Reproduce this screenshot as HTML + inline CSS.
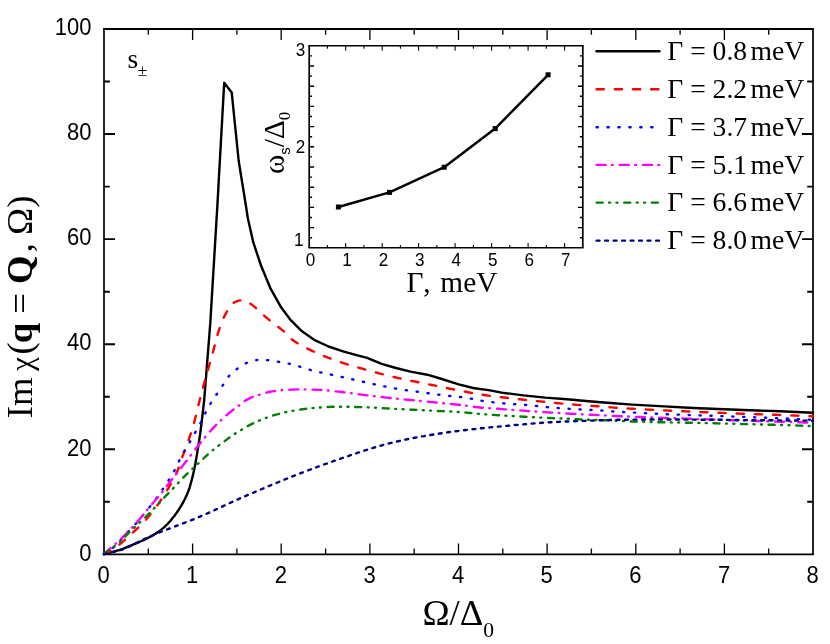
<!DOCTYPE html>
<html><head><meta charset="utf-8"><title>chart</title>
<style>html,body{margin:0;padding:0;background:#fff}svg{display:block;will-change:transform}</style>
</head><body>
<svg width="830" height="644" viewBox="0 0 830 644">
<rect width="830" height="644" fill="#fff"/>
<g stroke="#000" fill="none" stroke-linecap="butt">
<path stroke-width="1.95" d="M103.15 28.95H813.85M103.15 554.35H813.85"/>
<path stroke-width="1.7" d="M104.00 28.95V554.35M813.00 28.95V554.35"/>
<path stroke-width="1.3" d="M148.3 554.4v-5.8M148.3 28.9v5.8M192.6 554.4v-11.0M192.6 28.9v11.0M236.9 554.4v-5.8M236.9 28.9v5.8M281.2 554.4v-11.0M281.2 28.9v11.0M325.6 554.4v-5.8M325.6 28.9v5.8M369.9 554.4v-11.0M369.9 28.9v11.0M414.2 554.4v-5.8M414.2 28.9v5.8M458.5 554.4v-11.0M458.5 28.9v11.0M502.8 554.4v-5.8M502.8 28.9v5.8M547.1 554.4v-11.0M547.1 28.9v11.0M591.4 554.4v-5.8M591.4 28.9v5.8M635.8 554.4v-11.0M635.8 28.9v11.0M680.1 554.4v-5.8M680.1 28.9v5.8M724.4 554.4v-11.0M724.4 28.9v11.0M768.7 554.4v-5.8M768.7 28.9v5.8"/>
<path stroke-width="1.9" d="M104.0 501.8h5.8M813.0 501.8h-5.8M104.0 449.3h11.0M813.0 449.3h-11.0M104.0 396.7h5.8M813.0 396.7h-5.8M104.0 344.2h11.0M813.0 344.2h-11.0M104.0 291.7h5.8M813.0 291.7h-5.8M104.0 239.1h11.0M813.0 239.1h-11.0M104.0 186.6h5.8M813.0 186.6h-5.8M104.0 134.0h11.0M813.0 134.0h-11.0M104.0 81.5h5.8M813.0 81.5h-5.8"/>
</g>
<g font-family="Liberation Sans, sans-serif" font-size="22.0" fill="#000">
<text transform="translate(103.6 583.4) scale(1 1.090)" text-anchor="middle">0</text>
<text transform="translate(192.2 583.4) scale(1 1.090)" text-anchor="middle">1</text>
<text transform="translate(280.9 583.4) scale(1 1.090)" text-anchor="middle">2</text>
<text transform="translate(369.5 583.4) scale(1 1.090)" text-anchor="middle">3</text>
<text transform="translate(458.1 583.4) scale(1 1.090)" text-anchor="middle">4</text>
<text transform="translate(546.7 583.4) scale(1 1.090)" text-anchor="middle">5</text>
<text transform="translate(635.4 583.4) scale(1 1.090)" text-anchor="middle">6</text>
<text transform="translate(724.0 583.4) scale(1 1.090)" text-anchor="middle">7</text>
<text transform="translate(812.6 583.4) scale(1 1.090)" text-anchor="middle">8</text>
<text transform="translate(91.4 560.6) scale(1 1.090)" text-anchor="end">0</text>
<text transform="translate(91.4 455.5) scale(1 1.090)" text-anchor="end">20</text>
<text transform="translate(91.4 350.4) scale(1 1.090)" text-anchor="end">40</text>
<text transform="translate(91.4 245.3) scale(1 1.090)" text-anchor="end">60</text>
<text transform="translate(91.4 140.2) scale(1 1.090)" text-anchor="end">80</text>
<text transform="translate(91.4 35.2) scale(1 1.090)" text-anchor="end">100</text>
</g>
<g fill="none" stroke-width="2.40" stroke-linecap="round" stroke-linejoin="round">
<path stroke="#000" stroke-linejoin="round" d="M104.0 554.1 L105.5 553.7 L107.0 553.3 L108.5 553.0 L110.0 552.6 L111.5 552.2 L113.0 551.8 L114.5 551.4 L116.0 550.9 L117.5 550.5 L119.0 550.1 L120.5 549.6 L122.0 549.1 L123.5 548.5 L125.0 547.9 L126.5 547.3 L128.0 546.7 L129.5 546.1 L131.0 545.5 L132.5 544.9 L134.0 544.2 L135.5 543.6 L137.0 543.0 L138.5 542.3 L140.0 541.6 L141.5 541.0 L143.0 540.3 L144.5 539.6 L146.0 538.9 L147.5 538.2 L149.0 537.4 L150.5 536.6 L152.0 535.8 L153.5 534.9 L155.0 534.0 L156.5 533.1 L158.0 532.1 L159.5 531.0 L161.0 529.9 L162.5 528.6 L164.0 527.4 L165.5 526.0 L167.0 524.5 L168.5 522.9 L170.0 521.2 L171.5 519.4 L173.0 517.6 L174.5 515.7 L176.0 513.6 L177.5 511.5 L179.0 509.3 L180.5 506.9 L182.0 504.4 L183.5 501.7 L185.0 498.7 L186.5 495.6 L188.0 492.0 L189.5 487.8 L191.0 482.7 L192.5 476.9 L194.0 470.4 L195.5 462.9 L197.0 454.1 L198.5 444.7 L200.0 434.9 L201.5 423.5 L203.0 410.6 L204.2 400.0 L210.3 323.0 L217.4 205.0 L224.2 82.7 L231.7 92.4 L238.7 161.0 L245.8 205.0 L247.8 218.0 L253.3 242.4 L261.0 265.5 L270.6 288.7 L281.1 307.3 L290.0 319.3 L302.0 331.3 L314.1 339.8 L328.6 346.5 L343.0 351.3 L357.5 355.4 L367.1 357.8 L381.6 363.9 L396.0 368.0 L410.5 371.6 L427.3 374.7 L441.8 379.0 L458.7 384.3 L473.1 388.0 L490.0 390.4 L501.7 392.6 L523.5 395.4 L545.2 397.6 L567.0 399.3 L588.7 401.3 L610.4 403.0 L632.2 404.6 L655.0 405.9 L693.5 408.0 L737.0 409.8 L780.4 411.3 L813.0 412.8"/>
<path stroke="#ff0000" stroke-dasharray="7.2 11" d="M104.0 554.1 L106.0 553.2 L108.0 552.2 L110.0 551.1 L112.0 549.9 L114.0 548.5 L116.0 547.1 L118.0 545.6 L120.0 544.1 L122.0 542.4 L124.0 540.7 L126.0 538.9 L128.0 537.1 L130.0 535.2 L132.0 533.3 L134.0 531.5 L136.0 529.7 L138.0 527.8 L140.0 525.9 L142.0 523.9 L144.0 521.9 L146.0 519.7 L148.0 517.3 L150.0 514.8 L152.0 512.3 L154.0 509.8 L156.0 507.1 L158.0 504.4 L160.0 501.5 L162.0 498.4 L164.0 495.3 L166.0 492.1 L168.0 488.8 L170.0 485.5 L172.0 482.1 L174.0 478.5 L176.0 474.4 L178.0 469.5 L180.0 463.8 L182.0 457.9 L184.0 452.2 L186.0 447.0 L188.0 441.7 L190.0 436.0 L192.0 429.8 L194.0 423.1 L196.0 415.4 L198.0 406.9 L200.0 398.7 L202.0 391.2 L204.0 383.9 L206.0 376.7 L208.0 369.7 L210.0 362.6 L212.0 355.4 L214.0 348.1 L216.0 340.6 L218.0 333.1 L220.0 326.9 L222.0 321.7 L224.0 317.1 L226.0 313.1 L228.0 309.7 L230.0 306.6 L232.0 304.0 L234.0 302.5 L236.0 301.6 L238.0 300.9 L240.0 300.4 L242.0 300.1 L244.0 300.0 L246.0 300.7 L248.0 302.0 L250.0 303.4 L252.0 304.8 L254.0 306.4 L256.0 308.2 L258.0 309.9 L260.0 311.8 L262.0 313.6 L264.0 315.5 L266.0 317.3 L268.0 318.9 L270.0 320.5 L272.0 322.1 L274.0 323.6 L276.0 325.1 L278.0 326.7 L280.0 328.3 L282.0 329.9 L284.0 331.6 L286.0 333.4 L288.0 335.5 L290.0 337.7 L292.0 339.5 L294.0 341.0 L296.0 342.3 L298.0 343.6 L300.0 344.8 L302.0 345.9 L304.0 346.9 L306.0 348.0 L308.0 348.9 L310.0 349.9 L312.0 350.8 L314.0 351.8 L316.0 352.7 L318.0 353.6 L320.0 354.4 L322.0 355.3 L324.0 356.1 L326.0 356.9 L328.0 357.7 L330.0 358.4 L332.0 359.2 L334.0 359.9 L336.0 360.6 L338.0 361.3 L340.0 362.0 L342.0 362.7 L344.0 363.3 L346.0 363.9 L348.0 364.6 L350.0 365.2 L352.0 365.7 L354.0 366.3 L356.0 366.9 L358.0 367.5 L360.0 368.0 L362.0 368.6 L364.0 369.2 L366.0 369.8 L368.0 370.3 L370.0 370.9 L372.0 371.4 L374.0 372.0 L376.0 372.5 L378.0 373.0 L380.0 373.6 L382.0 374.1 L384.0 374.6 L386.0 375.1 L388.0 375.6 L390.0 376.1 L392.0 376.6 L394.0 377.0 L396.0 377.5 L398.0 378.0 L400.0 378.4 L402.0 378.9 L404.0 379.3 L406.0 379.7 L408.0 380.2 L410.0 380.6 L412.0 381.0 L414.0 381.4 L416.0 381.8 L418.0 382.2 L420.0 382.6 L422.0 383.0 L424.0 383.4 L426.0 383.8 L428.0 384.2 L430.0 384.6 L432.0 385.0 L434.0 385.4 L436.0 385.8 L438.0 386.2 L440.0 386.6 L442.0 387.0 L444.0 387.4 L446.0 387.8 L448.0 388.3 L450.0 388.7 L452.0 389.1 L454.0 389.5 L456.0 389.9 L458.0 390.3 L460.0 390.6 L462.0 391.0 L464.0 391.4 L466.0 391.8 L468.0 392.2 L470.0 392.6 L472.0 393.0 L474.0 393.3 L476.0 393.7 L478.0 394.0 L480.0 394.4 L482.0 394.7 L484.0 395.0 L486.0 395.3 L488.0 395.6 L490.0 395.9 L492.0 396.1 L494.0 396.4 L496.0 396.6 L498.0 396.8 L500.0 397.1 L502.0 397.3 L504.0 397.5 L506.0 397.7 L508.0 398.0 L510.0 398.2 L512.0 398.4 L514.0 398.6 L516.0 398.9 L518.0 399.1 L520.0 399.3 L522.0 399.5 L524.0 399.8 L526.0 400.0 L528.0 400.2 L530.0 400.4 L532.0 400.6 L534.0 400.8 L536.0 401.0 L538.0 401.2 L540.0 401.4 L542.0 401.6 L544.0 401.8 L546.0 402.0 L548.0 402.2 L550.0 402.4 L552.0 402.6 L554.0 402.8 L556.0 403.0 L558.0 403.2 L560.0 403.4 L562.0 403.6 L564.0 403.8 L566.0 404.0 L568.0 404.1 L570.0 404.3 L572.0 404.5 L574.0 404.6 L576.0 404.8 L578.0 404.9 L580.0 405.1 L582.0 405.2 L584.0 405.3 L586.0 405.5 L588.0 405.6 L590.0 405.7 L592.0 405.9 L594.0 406.0 L596.0 406.2 L598.0 406.3 L600.0 406.5 L602.0 406.6 L604.0 406.8 L606.0 407.0 L608.0 407.1 L610.0 407.3 L612.0 407.4 L614.0 407.6 L616.0 407.7 L618.0 407.9 L620.0 408.0 L622.0 408.1 L624.0 408.3 L626.0 408.4 L628.0 408.5 L630.0 408.6 L632.0 408.7 L634.0 408.8 L636.0 408.9 L638.0 409.1 L640.0 409.2 L642.0 409.3 L644.0 409.4 L646.0 409.5 L648.0 409.6 L650.0 409.7 L652.0 409.8 L654.0 409.9 L656.0 410.0 L658.0 410.1 L660.0 410.2 L662.0 410.3 L664.0 410.4 L666.0 410.5 L668.0 410.6 L670.0 410.7 L672.0 410.8 L674.0 410.8 L676.0 410.9 L678.0 411.0 L680.0 411.1 L682.0 411.2 L684.0 411.3 L686.0 411.4 L688.0 411.5 L690.0 411.5 L692.0 411.6 L694.0 411.7 L696.0 411.8 L698.0 411.9 L700.0 412.0 L702.0 412.1 L704.0 412.2 L706.0 412.2 L708.0 412.3 L710.0 412.4 L712.0 412.5 L714.0 412.6 L716.0 412.7 L718.0 412.7 L720.0 412.8 L722.0 412.9 L724.0 413.0 L726.0 413.1 L728.0 413.2 L730.0 413.2 L732.0 413.3 L734.0 413.4 L736.0 413.5 L738.0 413.5 L740.0 413.6 L742.0 413.7 L744.0 413.8 L746.0 413.8 L748.0 413.9 L750.0 414.0 L752.0 414.0 L754.0 414.1 L756.0 414.2 L758.0 414.2 L760.0 414.3 L762.0 414.4 L764.0 414.4 L766.0 414.5 L768.0 414.6 L770.0 414.6 L772.0 414.7 L774.0 414.8 L776.0 414.8 L778.0 414.9 L780.0 415.0 L782.0 415.1 L784.0 415.1 L786.0 415.2 L788.0 415.3 L790.0 415.4 L792.0 415.4 L794.0 415.5 L796.0 415.6 L798.0 415.7 L800.0 415.8 L802.0 415.8 L804.0 415.9 L806.0 416.0 L808.0 416.1 L810.0 416.2 L812.0 416.3 L813.0 416.3"/>
<path stroke="#0000ff" stroke-dasharray="1.2 9.73" d="M104.0 554.1 L106.0 553.0 L108.0 551.7 L110.0 550.2 L112.0 548.6 L114.0 546.9 L116.0 544.9 L118.0 542.8 L120.0 540.6 L122.0 538.4 L124.0 536.1 L126.0 533.9 L128.0 531.7 L130.0 529.7 L132.0 527.7 L134.0 525.7 L136.0 523.5 L138.0 521.1 L140.0 518.6 L142.0 516.2 L144.0 513.8 L146.0 511.4 L148.0 509.0 L150.0 506.5 L152.0 504.0 L154.0 501.4 L156.0 498.7 L158.0 496.0 L160.0 493.1 L162.0 490.2 L164.0 487.3 L166.0 484.3 L168.0 481.3 L170.0 478.1 L172.0 474.9 L174.0 471.5 L176.0 467.6 L178.0 463.3 L180.0 459.2 L182.0 455.6 L184.0 452.0 L186.0 448.5 L188.0 445.1 L190.0 441.7 L192.0 438.2 L194.0 434.7 L196.0 431.1 L198.0 427.6 L200.0 424.0 L202.0 420.1 L204.0 415.7 L206.0 411.5 L208.0 407.9 L210.0 404.5 L212.0 401.3 L214.0 398.3 L216.0 395.3 L218.0 392.4 L220.0 389.4 L222.0 386.4 L224.0 383.5 L226.0 380.3 L228.0 377.3 L230.0 374.8 L232.0 372.9 L234.0 371.2 L236.0 369.7 L238.0 368.3 L240.0 366.9 L242.0 365.6 L244.0 364.3 L246.0 363.2 L248.0 362.4 L250.0 361.7 L252.0 361.1 L254.0 360.6 L256.0 360.1 L258.0 359.9 L260.0 359.8 L262.0 359.8 L264.0 359.9 L266.0 360.0 L268.0 360.2 L270.0 360.4 L272.0 360.6 L274.0 360.9 L276.0 361.3 L278.0 361.7 L280.0 362.1 L282.0 362.5 L284.0 362.8 L286.0 363.1 L288.0 363.5 L290.0 363.8 L292.0 364.3 L294.0 364.8 L296.0 365.4 L298.0 366.0 L300.0 366.7 L302.0 367.3 L304.0 367.9 L306.0 368.5 L308.0 369.2 L310.0 369.8 L312.0 370.4 L314.0 370.9 L316.0 371.4 L318.0 371.8 L320.0 372.3 L322.0 372.7 L324.0 373.2 L326.0 373.6 L328.0 374.0 L330.0 374.4 L332.0 374.8 L334.0 375.3 L336.0 375.7 L338.0 376.2 L340.0 376.6 L342.0 377.0 L344.0 377.5 L346.0 377.9 L348.0 378.4 L350.0 378.8 L352.0 379.2 L354.0 379.7 L356.0 380.1 L358.0 380.6 L360.0 381.0 L362.0 381.5 L364.0 382.0 L366.0 382.4 L368.0 382.9 L370.0 383.4 L372.0 383.8 L374.0 384.2 L376.0 384.7 L378.0 385.1 L380.0 385.5 L382.0 385.9 L384.0 386.3 L386.0 386.7 L388.0 387.1 L390.0 387.5 L392.0 387.9 L394.0 388.2 L396.0 388.6 L398.0 388.9 L400.0 389.3 L402.0 389.6 L404.0 389.9 L406.0 390.2 L408.0 390.5 L410.0 390.8 L412.0 391.0 L414.0 391.3 L416.0 391.6 L418.0 391.8 L420.0 392.1 L422.0 392.4 L424.0 392.7 L426.0 393.0 L428.0 393.2 L430.0 393.5 L432.0 393.8 L434.0 394.0 L436.0 394.3 L438.0 394.6 L440.0 394.8 L442.0 395.1 L444.0 395.3 L446.0 395.5 L448.0 395.8 L450.0 396.0 L452.0 396.2 L454.0 396.4 L456.0 396.6 L458.0 396.8 L460.0 397.0 L462.0 397.3 L464.0 397.5 L466.0 397.8 L468.0 398.1 L470.0 398.5 L472.0 398.8 L474.0 399.2 L476.0 399.6 L478.0 400.0 L480.0 400.4 L482.0 400.8 L484.0 401.1 L486.0 401.4 L488.0 401.6 L490.0 401.9 L492.0 402.1 L494.0 402.4 L496.0 402.6 L498.0 402.8 L500.0 403.0 L502.0 403.2 L504.0 403.4 L506.0 403.6 L508.0 403.8 L510.0 403.9 L512.0 404.1 L514.0 404.2 L516.0 404.3 L518.0 404.5 L520.0 404.6 L522.0 404.7 L524.0 404.8 L526.0 405.0 L528.0 405.1 L530.0 405.3 L532.0 405.5 L534.0 405.7 L536.0 405.9 L538.0 406.1 L540.0 406.3 L542.0 406.5 L544.0 406.7 L546.0 407.0 L548.0 407.2 L550.0 407.3 L552.0 407.5 L554.0 407.7 L556.0 407.8 L558.0 408.0 L560.0 408.2 L562.0 408.3 L564.0 408.5 L566.0 408.6 L568.0 408.7 L570.0 408.9 L572.0 409.0 L574.0 409.1 L576.0 409.2 L578.0 409.3 L580.0 409.4 L582.0 409.5 L584.0 409.6 L586.0 409.7 L588.0 409.8 L590.0 409.9 L592.0 410.0 L594.0 410.1 L596.0 410.2 L598.0 410.4 L600.0 410.5 L602.0 410.6 L604.0 410.8 L606.0 410.9 L608.0 411.1 L610.0 411.2 L612.0 411.4 L614.0 411.5 L616.0 411.6 L618.0 411.8 L620.0 411.9 L622.0 412.0 L624.0 412.1 L626.0 412.2 L628.0 412.3 L630.0 412.4 L632.0 412.5 L634.0 412.6 L636.0 412.7 L638.0 412.8 L640.0 412.9 L642.0 413.0 L644.0 413.1 L646.0 413.2 L648.0 413.3 L650.0 413.4 L652.0 413.5 L654.0 413.6 L656.0 413.7 L658.0 413.8 L660.0 413.9 L662.0 414.0 L664.0 414.1 L666.0 414.2 L668.0 414.2 L670.0 414.3 L672.0 414.4 L674.0 414.5 L676.0 414.6 L678.0 414.6 L680.0 414.7 L682.0 414.8 L684.0 414.9 L686.0 414.9 L688.0 415.0 L690.0 415.1 L692.0 415.1 L694.0 415.2 L696.0 415.3 L698.0 415.4 L700.0 415.4 L702.0 415.5 L704.0 415.6 L706.0 415.6 L708.0 415.7 L710.0 415.8 L712.0 415.8 L714.0 415.9 L716.0 416.0 L718.0 416.0 L720.0 416.1 L722.0 416.2 L724.0 416.3 L726.0 416.3 L728.0 416.4 L730.0 416.5 L732.0 416.5 L734.0 416.6 L736.0 416.7 L738.0 416.7 L740.0 416.8 L742.0 416.9 L744.0 416.9 L746.0 417.0 L748.0 417.1 L750.0 417.2 L752.0 417.2 L754.0 417.3 L756.0 417.4 L758.0 417.4 L760.0 417.5 L762.0 417.6 L764.0 417.7 L766.0 417.7 L768.0 417.8 L770.0 417.9 L772.0 418.0 L774.0 418.0 L776.0 418.1 L778.0 418.2 L780.0 418.3 L782.0 418.4 L784.0 418.5 L786.0 418.5 L788.0 418.6 L790.0 418.7 L792.0 418.8 L794.0 418.9 L796.0 419.0 L798.0 419.1 L800.0 419.2 L802.0 419.3 L804.0 419.4 L806.0 419.5 L808.0 419.6 L810.0 419.7 L812.0 419.8 L813.0 419.8"/>
<path stroke="#ff00ff" stroke-dasharray="9 6.4 0.7 7.1" d="M104.0 554.1 L106.0 552.3 L108.0 550.5 L110.0 548.7 L112.0 546.9 L114.0 545.1 L116.0 543.4 L118.0 541.6 L120.0 539.7 L122.0 537.8 L124.0 535.8 L126.0 533.8 L128.0 531.7 L130.0 529.7 L132.0 527.7 L134.0 525.7 L136.0 523.5 L138.0 521.1 L140.0 518.7 L142.0 516.2 L144.0 513.8 L146.0 511.3 L148.0 508.8 L150.0 506.4 L152.0 504.1 L154.0 501.8 L156.0 499.4 L158.0 497.1 L160.0 494.8 L162.0 492.4 L164.0 489.8 L166.0 487.2 L168.0 484.5 L170.0 481.9 L172.0 479.3 L174.0 476.7 L176.0 474.2 L178.0 471.7 L180.0 469.2 L182.0 466.7 L184.0 464.1 L186.0 461.5 L188.0 458.9 L190.0 456.2 L192.0 453.6 L194.0 451.0 L196.0 448.5 L198.0 445.9 L200.0 443.4 L202.0 440.9 L204.0 438.5 L206.0 436.1 L208.0 433.8 L210.0 431.5 L212.0 429.3 L214.0 427.2 L216.0 425.1 L218.0 423.1 L220.0 421.2 L222.0 419.3 L224.0 417.4 L226.0 415.7 L228.0 413.9 L230.0 412.3 L232.0 410.7 L234.0 409.2 L236.0 407.8 L238.0 406.3 L240.0 404.8 L242.0 403.1 L244.0 401.5 L246.0 400.1 L248.0 399.1 L250.0 398.1 L252.0 397.2 L254.0 396.5 L256.0 395.8 L258.0 395.1 L260.0 394.5 L262.0 393.9 L264.0 393.3 L266.0 392.7 L268.0 392.2 L270.0 391.8 L272.0 391.4 L274.0 391.1 L276.0 390.8 L278.0 390.6 L280.0 390.4 L282.0 390.2 L284.0 390.0 L286.0 389.8 L288.0 389.7 L290.0 389.7 L292.0 389.6 L294.0 389.5 L296.0 389.4 L298.0 389.4 L300.0 389.4 L302.0 389.4 L304.0 389.4 L306.0 389.4 L308.0 389.5 L310.0 389.5 L312.0 389.6 L314.0 389.6 L316.0 389.7 L318.0 389.7 L320.0 389.9 L322.0 390.0 L324.0 390.2 L326.0 390.4 L328.0 390.5 L330.0 390.7 L332.0 391.0 L334.0 391.2 L336.0 391.4 L338.0 391.6 L340.0 391.8 L342.0 392.0 L344.0 392.3 L346.0 392.5 L348.0 392.8 L350.0 393.0 L352.0 393.3 L354.0 393.6 L356.0 393.9 L358.0 394.1 L360.0 394.4 L362.0 394.7 L364.0 394.9 L366.0 395.2 L368.0 395.4 L370.0 395.7 L372.0 395.9 L374.0 396.2 L376.0 396.4 L378.0 396.6 L380.0 396.9 L382.0 397.1 L384.0 397.3 L386.0 397.6 L388.0 397.8 L390.0 398.0 L392.0 398.2 L394.0 398.4 L396.0 398.6 L398.0 398.8 L400.0 399.0 L402.0 399.2 L404.0 399.4 L406.0 399.6 L408.0 399.8 L410.0 400.0 L412.0 400.1 L414.0 400.3 L416.0 400.5 L418.0 400.7 L420.0 400.9 L422.0 401.1 L424.0 401.3 L426.0 401.5 L428.0 401.7 L430.0 401.9 L432.0 402.1 L434.0 402.3 L436.0 402.5 L438.0 402.7 L440.0 402.9 L442.0 403.1 L444.0 403.3 L446.0 403.5 L448.0 403.7 L450.0 403.9 L452.0 404.1 L454.0 404.3 L456.0 404.5 L458.0 404.7 L460.0 405.0 L462.0 405.2 L464.0 405.5 L466.0 405.7 L468.0 406.0 L470.0 406.3 L472.0 406.6 L474.0 406.8 L476.0 407.1 L478.0 407.3 L480.0 407.5 L482.0 407.7 L484.0 407.8 L486.0 408.0 L488.0 408.2 L490.0 408.3 L492.0 408.4 L494.0 408.6 L496.0 408.7 L498.0 408.8 L500.0 409.0 L502.0 409.1 L504.0 409.3 L506.0 409.4 L508.0 409.6 L510.0 409.7 L512.0 409.9 L514.0 410.0 L516.0 410.2 L518.0 410.3 L520.0 410.4 L522.0 410.6 L524.0 410.7 L526.0 410.9 L528.0 411.0 L530.0 411.2 L532.0 411.3 L534.0 411.4 L536.0 411.6 L538.0 411.7 L540.0 411.9 L542.0 412.0 L544.0 412.1 L546.0 412.3 L548.0 412.4 L550.0 412.5 L552.0 412.6 L554.0 412.7 L556.0 412.9 L558.0 413.0 L560.0 413.1 L562.0 413.2 L564.0 413.3 L566.0 413.4 L568.0 413.6 L570.0 413.7 L572.0 413.8 L574.0 413.9 L576.0 414.0 L578.0 414.1 L580.0 414.2 L582.0 414.3 L584.0 414.4 L586.0 414.5 L588.0 414.6 L590.0 414.7 L592.0 414.8 L594.0 414.9 L596.0 415.0 L598.0 415.1 L600.0 415.2 L602.0 415.3 L604.0 415.4 L606.0 415.5 L608.0 415.6 L610.0 415.7 L612.0 415.8 L614.0 415.9 L616.0 416.0 L618.0 416.1 L620.0 416.2 L622.0 416.2 L624.0 416.3 L626.0 416.4 L628.0 416.5 L630.0 416.6 L632.0 416.7 L634.0 416.8 L636.0 416.9 L638.0 416.9 L640.0 417.0 L642.0 417.1 L644.0 417.2 L646.0 417.3 L648.0 417.3 L650.0 417.4 L652.0 417.5 L654.0 417.6 L656.0 417.7 L658.0 417.7 L660.0 417.8 L662.0 417.9 L664.0 417.9 L666.0 418.0 L668.0 418.1 L670.0 418.1 L672.0 418.2 L674.0 418.3 L676.0 418.3 L678.0 418.4 L680.0 418.5 L682.0 418.5 L684.0 418.6 L686.0 418.7 L688.0 418.7 L690.0 418.8 L692.0 418.8 L694.0 418.9 L696.0 419.0 L698.0 419.1 L700.0 419.1 L702.0 419.2 L704.0 419.3 L706.0 419.3 L708.0 419.4 L710.0 419.5 L712.0 419.5 L714.0 419.6 L716.0 419.7 L718.0 419.8 L720.0 419.8 L722.0 419.9 L724.0 420.0 L726.0 420.0 L728.0 420.1 L730.0 420.2 L732.0 420.2 L734.0 420.3 L736.0 420.4 L738.0 420.4 L740.0 420.5 L742.0 420.6 L744.0 420.6 L746.0 420.7 L748.0 420.7 L750.0 420.8 L752.0 420.9 L754.0 420.9 L756.0 421.0 L758.0 421.0 L760.0 421.1 L762.0 421.1 L764.0 421.2 L766.0 421.3 L768.0 421.3 L770.0 421.4 L772.0 421.4 L774.0 421.5 L776.0 421.6 L778.0 421.6 L780.0 421.7 L782.0 421.8 L784.0 421.8 L786.0 421.9 L788.0 421.9 L790.0 422.0 L792.0 422.1 L794.0 422.1 L796.0 422.2 L798.0 422.3 L800.0 422.3 L802.0 422.4 L804.0 422.5 L806.0 422.6 L808.0 422.6 L810.0 422.7 L812.0 422.8 L813.0 422.8"/>
<path stroke="#008000" stroke-dasharray="6.1 6.4 1 6.4 1 6.7" d="M104.0 554.1 L106.0 552.3 L108.0 550.7 L110.0 549.2 L112.0 547.8 L114.0 546.5 L116.0 545.1 L118.0 543.6 L120.0 541.9 L122.0 539.8 L124.0 537.7 L126.0 535.7 L128.0 533.7 L130.0 531.6 L132.0 529.7 L134.0 527.8 L136.0 526.0 L138.0 524.2 L140.0 522.3 L142.0 520.5 L144.0 518.6 L146.0 516.7 L148.0 514.7 L150.0 512.6 L152.0 510.4 L154.0 508.4 L156.0 506.3 L158.0 504.2 L160.0 502.1 L162.0 500.0 L164.0 497.8 L166.0 495.7 L168.0 493.7 L170.0 491.6 L172.0 489.6 L174.0 487.5 L176.0 485.3 L178.0 483.2 L180.0 481.0 L182.0 478.9 L184.0 476.8 L186.0 474.8 L188.0 472.9 L190.0 471.1 L192.0 469.3 L194.0 467.4 L196.0 465.6 L198.0 463.7 L200.0 461.9 L202.0 459.9 L204.0 458.0 L206.0 456.1 L208.0 454.3 L210.0 452.5 L212.0 450.9 L214.0 449.2 L216.0 447.6 L218.0 446.1 L220.0 444.5 L222.0 443.0 L224.0 441.6 L226.0 440.1 L228.0 438.6 L230.0 437.2 L232.0 435.8 L234.0 434.4 L236.0 433.1 L238.0 431.9 L240.0 430.6 L242.0 429.4 L244.0 428.2 L246.0 427.1 L248.0 426.0 L250.0 424.9 L252.0 423.9 L254.0 422.9 L256.0 422.0 L258.0 421.1 L260.0 420.3 L262.0 419.5 L264.0 418.7 L266.0 417.9 L268.0 417.2 L270.0 416.5 L272.0 415.9 L274.0 415.2 L276.0 414.6 L278.0 414.1 L280.0 413.5 L282.0 413.0 L284.0 412.5 L286.0 412.1 L288.0 411.6 L290.0 411.2 L292.0 410.9 L294.0 410.5 L296.0 410.2 L298.0 409.9 L300.0 409.6 L302.0 409.3 L304.0 409.1 L306.0 408.8 L308.0 408.6 L310.0 408.4 L312.0 408.2 L314.0 408.0 L316.0 407.9 L318.0 407.7 L320.0 407.5 L322.0 407.4 L324.0 407.3 L326.0 407.1 L328.0 407.0 L330.0 406.9 L332.0 406.8 L334.0 406.8 L336.0 406.7 L338.0 406.7 L340.0 406.7 L342.0 406.7 L344.0 406.7 L346.0 406.8 L348.0 406.8 L350.0 406.9 L352.0 406.9 L354.0 407.0 L356.0 407.0 L358.0 407.1 L360.0 407.1 L362.0 407.2 L364.0 407.3 L366.0 407.3 L368.0 407.4 L370.0 407.5 L372.0 407.6 L374.0 407.7 L376.0 407.8 L378.0 407.9 L380.0 408.1 L382.0 408.2 L384.0 408.3 L386.0 408.4 L388.0 408.5 L390.0 408.6 L392.0 408.7 L394.0 408.8 L396.0 408.9 L398.0 409.0 L400.0 409.1 L402.0 409.2 L404.0 409.3 L406.0 409.4 L408.0 409.5 L410.0 409.6 L412.0 409.7 L414.0 409.8 L416.0 409.9 L418.0 410.0 L420.0 410.1 L422.0 410.2 L424.0 410.3 L426.0 410.4 L428.0 410.5 L430.0 410.6 L432.0 410.7 L434.0 410.8 L436.0 410.9 L438.0 411.0 L440.0 411.1 L442.0 411.1 L444.0 411.2 L446.0 411.3 L448.0 411.4 L450.0 411.5 L452.0 411.6 L454.0 411.7 L456.0 411.8 L458.0 412.0 L460.0 412.1 L462.0 412.3 L464.0 412.4 L466.0 412.6 L468.0 412.8 L470.0 413.0 L472.0 413.2 L474.0 413.5 L476.0 413.7 L478.0 413.8 L480.0 414.0 L482.0 414.1 L484.0 414.3 L486.0 414.4 L488.0 414.6 L490.0 414.7 L492.0 414.8 L494.0 414.9 L496.0 415.1 L498.0 415.2 L500.0 415.3 L502.0 415.4 L504.0 415.5 L506.0 415.7 L508.0 415.8 L510.0 415.9 L512.0 416.0 L514.0 416.2 L516.0 416.3 L518.0 416.4 L520.0 416.5 L522.0 416.6 L524.0 416.7 L526.0 416.8 L528.0 416.9 L530.0 417.0 L532.0 417.2 L534.0 417.3 L536.0 417.4 L538.0 417.5 L540.0 417.6 L542.0 417.7 L544.0 417.7 L546.0 417.8 L548.0 417.9 L550.0 418.0 L552.0 418.1 L554.0 418.2 L556.0 418.2 L558.0 418.3 L560.0 418.4 L562.0 418.5 L564.0 418.6 L566.0 418.7 L568.0 418.7 L570.0 418.8 L572.0 419.0 L574.0 419.1 L576.0 419.2 L578.0 419.3 L580.0 419.4 L582.0 419.5 L584.0 419.6 L586.0 419.7 L588.0 419.8 L590.0 419.8 L592.0 419.9 L594.0 420.0 L596.0 420.0 L598.0 420.1 L600.0 420.1 L602.0 420.2 L604.0 420.2 L606.0 420.3 L608.0 420.3 L610.0 420.4 L612.0 420.5 L614.0 420.6 L616.0 420.7 L618.0 420.8 L620.0 420.9 L622.0 421.0 L624.0 421.1 L626.0 421.2 L628.0 421.3 L630.0 421.4 L632.0 421.5 L634.0 421.6 L636.0 421.6 L638.0 421.7 L640.0 421.7 L642.0 421.8 L644.0 421.8 L646.0 421.9 L648.0 421.9 L650.0 422.0 L652.0 422.0 L654.0 422.1 L656.0 422.1 L658.0 422.2 L660.0 422.2 L662.0 422.2 L664.0 422.3 L666.0 422.3 L668.0 422.4 L670.0 422.4 L672.0 422.4 L674.0 422.5 L676.0 422.5 L678.0 422.5 L680.0 422.6 L682.0 422.6 L684.0 422.6 L686.0 422.7 L688.0 422.7 L690.0 422.7 L692.0 422.8 L694.0 422.8 L696.0 422.9 L698.0 422.9 L700.0 422.9 L702.0 423.0 L704.0 423.0 L706.0 423.1 L708.0 423.1 L710.0 423.2 L712.0 423.2 L714.0 423.3 L716.0 423.3 L718.0 423.4 L720.0 423.5 L722.0 423.5 L724.0 423.6 L726.0 423.6 L728.0 423.7 L730.0 423.7 L732.0 423.8 L734.0 423.8 L736.0 423.9 L738.0 423.9 L740.0 424.0 L742.0 424.0 L744.0 424.1 L746.0 424.1 L748.0 424.2 L750.0 424.2 L752.0 424.3 L754.0 424.3 L756.0 424.4 L758.0 424.4 L760.0 424.5 L762.0 424.5 L764.0 424.6 L766.0 424.6 L768.0 424.7 L770.0 424.7 L772.0 424.8 L774.0 424.8 L776.0 424.9 L778.0 424.9 L780.0 425.0 L782.0 425.0 L784.0 425.1 L786.0 425.2 L788.0 425.2 L790.0 425.3 L792.0 425.4 L794.0 425.4 L796.0 425.5 L798.0 425.6 L800.0 425.6 L802.0 425.7 L804.0 425.8 L806.0 425.8 L808.0 425.9 L810.0 426.0 L812.0 426.1 L813.0 426.1"/>
<path stroke="#000080" stroke-dasharray="2.9 5.6" d="M104.0 554.1 L106.0 553.6 L108.0 553.1 L110.0 552.6 L112.0 552.2 L114.0 551.8 L116.0 551.3 L118.0 550.9 L120.0 550.3 L122.0 549.7 L124.0 548.9 L126.0 548.0 L128.0 547.1 L130.0 546.1 L132.0 545.1 L134.0 544.1 L136.0 543.1 L138.0 542.2 L140.0 541.2 L142.0 540.2 L144.0 539.2 L146.0 538.3 L148.0 537.3 L150.0 536.4 L152.0 535.6 L154.0 534.7 L156.0 533.9 L158.0 533.0 L160.0 532.2 L162.0 531.4 L164.0 530.6 L166.0 529.8 L168.0 529.1 L170.0 528.3 L172.0 527.5 L174.0 526.8 L176.0 526.0 L178.0 525.3 L180.0 524.5 L182.0 523.7 L184.0 523.0 L186.0 522.2 L188.0 521.4 L190.0 520.7 L192.0 519.9 L194.0 519.1 L196.0 518.3 L198.0 517.4 L200.0 516.6 L202.0 515.7 L204.0 514.9 L206.0 514.0 L208.0 513.1 L210.0 512.2 L212.0 511.3 L214.0 510.4 L216.0 509.4 L218.0 508.5 L220.0 507.6 L222.0 506.7 L224.0 505.7 L226.0 504.8 L228.0 503.9 L230.0 503.0 L232.0 502.0 L234.0 501.1 L236.0 500.2 L238.0 499.3 L240.0 498.4 L242.0 497.5 L244.0 496.7 L246.0 495.8 L248.0 494.9 L250.0 494.1 L252.0 493.2 L254.0 492.4 L256.0 491.5 L258.0 490.7 L260.0 489.8 L262.0 489.0 L264.0 488.1 L266.0 487.3 L268.0 486.4 L270.0 485.6 L272.0 484.7 L274.0 483.9 L276.0 483.1 L278.0 482.3 L280.0 481.4 L282.0 480.6 L284.0 479.8 L286.0 479.0 L288.0 478.2 L290.0 477.4 L292.0 476.6 L294.0 475.8 L296.0 475.0 L298.0 474.3 L300.0 473.5 L302.0 472.7 L304.0 472.0 L306.0 471.2 L308.0 470.4 L310.0 469.7 L312.0 468.9 L314.0 468.2 L316.0 467.4 L318.0 466.7 L320.0 466.0 L322.0 465.2 L324.0 464.5 L326.0 463.8 L328.0 463.1 L330.0 462.3 L332.0 461.6 L334.0 460.9 L336.0 460.2 L338.0 459.5 L340.0 458.8 L342.0 458.1 L344.0 457.4 L346.0 456.7 L348.0 456.1 L350.0 455.4 L352.0 454.7 L354.0 454.1 L356.0 453.4 L358.0 452.7 L360.0 452.1 L362.0 451.4 L364.0 450.8 L366.0 450.1 L368.0 449.5 L370.0 448.9 L372.0 448.2 L374.0 447.6 L376.0 447.0 L378.0 446.4 L380.0 445.9 L382.0 445.3 L384.0 444.7 L386.0 444.2 L388.0 443.7 L390.0 443.2 L392.0 442.7 L394.0 442.2 L396.0 441.7 L398.0 441.3 L400.0 440.8 L402.0 440.4 L404.0 439.9 L406.0 439.5 L408.0 439.1 L410.0 438.7 L412.0 438.3 L414.0 437.9 L416.0 437.5 L418.0 437.2 L420.0 436.8 L422.0 436.4 L424.0 436.1 L426.0 435.7 L428.0 435.4 L430.0 435.0 L432.0 434.7 L434.0 434.4 L436.0 434.1 L438.0 433.8 L440.0 433.5 L442.0 433.2 L444.0 432.9 L446.0 432.6 L448.0 432.3 L450.0 432.0 L452.0 431.8 L454.0 431.5 L456.0 431.2 L458.0 431.0 L460.0 430.7 L462.0 430.5 L464.0 430.2 L466.0 430.0 L468.0 429.8 L470.0 429.5 L472.0 429.3 L474.0 429.1 L476.0 428.9 L478.0 428.6 L480.0 428.4 L482.0 428.2 L484.0 428.0 L486.0 427.8 L488.0 427.6 L490.0 427.4 L492.0 427.2 L494.0 427.0 L496.0 426.8 L498.0 426.6 L500.0 426.5 L502.0 426.3 L504.0 426.1 L506.0 425.9 L508.0 425.7 L510.0 425.5 L512.0 425.3 L514.0 425.1 L516.0 425.0 L518.0 424.8 L520.0 424.6 L522.0 424.4 L524.0 424.3 L526.0 424.1 L528.0 423.9 L530.0 423.7 L532.0 423.6 L534.0 423.4 L536.0 423.3 L538.0 423.1 L540.0 423.0 L542.0 422.8 L544.0 422.7 L546.0 422.6 L548.0 422.4 L550.0 422.3 L552.0 422.2 L554.0 422.1 L556.0 422.0 L558.0 421.9 L560.0 421.8 L562.0 421.7 L564.0 421.6 L566.0 421.5 L568.0 421.5 L570.0 421.4 L572.0 421.3 L574.0 421.2 L576.0 421.1 L578.0 421.1 L580.0 421.0 L582.0 420.9 L584.0 420.9 L586.0 420.8 L588.0 420.7 L590.0 420.7 L592.0 420.6 L594.0 420.5 L596.0 420.4 L598.0 420.4 L600.0 420.3 L602.0 420.2 L604.0 420.2 L606.0 420.1 L608.0 420.1 L610.0 420.0 L612.0 420.0 L614.0 419.9 L616.0 419.9 L618.0 419.8 L620.0 419.8 L622.0 419.7 L624.0 419.7 L626.0 419.7 L628.0 419.6 L630.0 419.6 L632.0 419.6 L634.0 419.6 L636.0 419.6 L638.0 419.6 L640.0 419.6 L642.0 419.5 L644.0 419.5 L646.0 419.5 L648.0 419.5 L650.0 419.5 L652.0 419.5 L654.0 419.5 L656.0 419.5 L658.0 419.5 L660.0 419.5 L662.0 419.5 L664.0 419.5 L666.0 419.5 L668.0 419.5 L670.0 419.5 L672.0 419.5 L674.0 419.5 L676.0 419.5 L678.0 419.5 L680.0 419.5 L682.0 419.6 L684.0 419.6 L686.0 419.6 L688.0 419.6 L690.0 419.6 L692.0 419.6 L694.0 419.6 L696.0 419.6 L698.0 419.6 L700.0 419.6 L702.0 419.7 L704.0 419.7 L706.0 419.7 L708.0 419.7 L710.0 419.7 L712.0 419.7 L714.0 419.8 L716.0 419.8 L718.0 419.8 L720.0 419.8 L722.0 419.8 L724.0 419.9 L726.0 419.9 L728.0 419.9 L730.0 419.9 L732.0 420.0 L734.0 420.0 L736.0 420.0 L738.0 420.0 L740.0 420.0 L742.0 420.0 L744.0 420.1 L746.0 420.1 L748.0 420.1 L750.0 420.1 L752.0 420.1 L754.0 420.2 L756.0 420.2 L758.0 420.2 L760.0 420.2 L762.0 420.2 L764.0 420.2 L766.0 420.3 L768.0 420.3 L770.0 420.3 L772.0 420.3 L774.0 420.3 L776.0 420.4 L778.0 420.4 L780.0 420.4 L782.0 420.4 L784.0 420.4 L786.0 420.5 L788.0 420.5 L790.0 420.5 L792.0 420.5 L794.0 420.5 L796.0 420.5 L798.0 420.6 L800.0 420.6 L802.0 420.6 L804.0 420.6 L806.0 420.6 L808.0 420.7 L810.0 420.7 L812.0 420.7 L813.0 420.7"/>
</g>
<g fill="none" stroke-width="2.40" stroke-linecap="round">
<path stroke="#000" d="M596.6 51.3H659.4"/>
<path stroke="#ff0000" stroke-dasharray="7.2 11" d="M596.6 89.2H659.4"/>
<path stroke="#0000ff" stroke-dasharray="1.2 9.73" d="M596.6 127.2H659.4"/>
<path stroke="#ff00ff" stroke-dasharray="9 6.4 0.7 7.1" d="M596.6 164.9H659.4"/>
<path stroke="#008000" stroke-dasharray="6.1 6.4 1 6.4 1 6.7" d="M596.6 202.6H659.4"/>
<path stroke="#000080" stroke-dasharray="2.9 5.6" d="M596.6 240.6H659.4"/>
</g>
<g font-family="Liberation Serif, serif" font-size="27.6" fill="#000">
<text x="667.3" y="59.9" xml:space="preserve">Γ = 0.8<tspan dx="3.5">meV</tspan></text>
<text x="667.3" y="97.8" xml:space="preserve">Γ = 2.2<tspan dx="3.5">meV</tspan></text>
<text x="667.3" y="135.8" xml:space="preserve">Γ = 3.7<tspan dx="3.5">meV</tspan></text>
<text x="667.3" y="173.5" xml:space="preserve">Γ = 5.1<tspan dx="3.5">meV</tspan></text>
<text x="667.3" y="211.2" xml:space="preserve">Γ = 6.6<tspan dx="3.5">meV</tspan></text>
<text x="667.3" y="249.2" xml:space="preserve">Γ = 8.0<tspan dx="3.5">meV</tspan></text>
</g>
<text x="127.4" y="67.7" font-family="Liberation Serif, serif" font-size="27.4" fill="#000">s<tspan font-size="17.6" dy="8.4" dx="-0.4">±</tspan></text>
<text transform="translate(422.4 625.3) scale(1.03 1)" font-family="Liberation Serif, serif" font-size="35.5" fill="#000">Ω/Δ<tspan font-size="21" dy="12">0</tspan></text>
<text transform="translate(32.3 418.3) rotate(-90)" font-family="Liberation Serif, serif" font-size="36.7" fill="#000" xml:space="preserve">Im<tspan dx="6.5" font-size="31.5">χ</tspan><tspan dx="2.5">(</tspan><tspan font-weight="bold" dx="-1">q</tspan> = <tspan font-weight="bold">Q</tspan><tspan dx="3">,</tspan><tspan dx="-1"> Ω)</tspan></text>
<g stroke="#000" fill="none">
<rect x="309.2" y="45.8" width="273.6" height="201.9" fill="#fff" stroke="none"/>
<path stroke-width="1.55" d="M308.35 45.80H583.65M308.35 247.75H583.65"/>
<path stroke-width="1.7" d="M309.20 45.80V247.75M582.80 45.80V247.75"/>
<path stroke-width="1.05" d="M327.4 247.8v-2.9M327.4 45.8v2.9M345.7 247.8v-4.9M345.7 45.8v4.9M363.9 247.8v-2.9M363.9 45.8v2.9M382.2 247.8v-4.9M382.2 45.8v4.9M400.4 247.8v-2.9M400.4 45.8v2.9M418.6 247.8v-4.9M418.6 45.8v4.9M436.9 247.8v-2.9M436.9 45.8v2.9M455.1 247.8v-4.9M455.1 45.8v4.9M473.4 247.8v-2.9M473.4 45.8v2.9M491.6 247.8v-4.9M491.6 45.8v4.9M509.8 247.8v-2.9M509.8 45.8v2.9M528.1 247.8v-4.9M528.1 45.8v4.9M546.3 247.8v-2.9M546.3 45.8v2.9M564.6 247.8v-4.9M564.6 45.8v4.9"/>
<path stroke-width="1.4" d="M309.2 237.7h2.9M582.8 237.7h-2.9M309.2 227.6h4.9M582.8 227.6h-4.9M309.2 217.5h2.9M582.8 217.5h-2.9M309.2 207.4h4.9M582.8 207.4h-4.9M309.2 197.3h2.9M582.8 197.3h-2.9M309.2 187.2h4.9M582.8 187.2h-4.9M309.2 177.1h2.9M582.8 177.1h-2.9M309.2 167.0h4.9M582.8 167.0h-4.9M309.2 156.9h2.9M582.8 156.9h-2.9M309.2 146.8h4.9M582.8 146.8h-4.9M309.2 136.7h2.9M582.8 136.7h-2.9M309.2 126.6h4.9M582.8 126.6h-4.9M309.2 116.5h2.9M582.8 116.5h-2.9M309.2 106.4h4.9M582.8 106.4h-4.9M309.2 96.3h2.9M582.8 96.3h-2.9M309.2 86.2h4.9M582.8 86.2h-4.9M309.2 76.1h2.9M582.8 76.1h-2.9M309.2 66.0h4.9M582.8 66.0h-4.9M309.2 55.9h2.9M582.8 55.9h-2.9"/>
</g>
<path fill="none" stroke="#000" stroke-width="2.5" stroke-linejoin="round" d="M338.4 207.0 L389.5 192.4 L444.2 167.2 L495.2 128.6 L548.1 74.8"/>
<rect x="335.9" y="204.5" width="5" height="5" fill="#000"/>
<rect x="387.0" y="189.9" width="5" height="5" fill="#000"/>
<rect x="441.7" y="164.7" width="5" height="5" fill="#000"/>
<rect x="492.7" y="126.1" width="5" height="5" fill="#000"/>
<rect x="545.6" y="72.3" width="5" height="5" fill="#000"/>
<g font-family="Liberation Sans, sans-serif" font-size="17.1" fill="#000">
<text transform="translate(310.4 265.9) scale(1 1.060)" text-anchor="middle">0</text>
<text transform="translate(346.9 265.9) scale(1 1.060)" text-anchor="middle">1</text>
<text transform="translate(383.4 265.9) scale(1 1.060)" text-anchor="middle">2</text>
<text transform="translate(419.8 265.9) scale(1 1.060)" text-anchor="middle">3</text>
<text transform="translate(456.3 265.9) scale(1 1.060)" text-anchor="middle">4</text>
<text transform="translate(492.8 265.9) scale(1 1.060)" text-anchor="middle">5</text>
<text transform="translate(529.3 265.9) scale(1 1.060)" text-anchor="middle">6</text>
<text transform="translate(565.8 265.9) scale(1 1.060)" text-anchor="middle">7</text>
<text transform="translate(303.6 245.9) scale(1 1.060)" text-anchor="end">1</text>
<text transform="translate(305.3 152.7) scale(1 1.060)" text-anchor="end">2</text>
<text transform="translate(305.3 56.0) scale(1 1.060)" text-anchor="end">3</text>
</g>
<text x="406.5" y="292.4" font-family="Liberation Serif, serif" font-size="29.3" fill="#000" xml:space="preserve">Γ<tspan dx="3.4">,</tspan><tspan dx="2.4"> meV</tspan></text>
<text transform="translate(283.7 174) rotate(-90)" font-family="Liberation Serif, serif" font-size="29.3" fill="#000">ω<tspan font-family="Liberation Sans, sans-serif" font-size="15" dy="6">s</tspan><tspan dy="-6">/Δ</tspan><tspan font-size="17" dy="6">0</tspan></text>
</svg>
</body></html>
